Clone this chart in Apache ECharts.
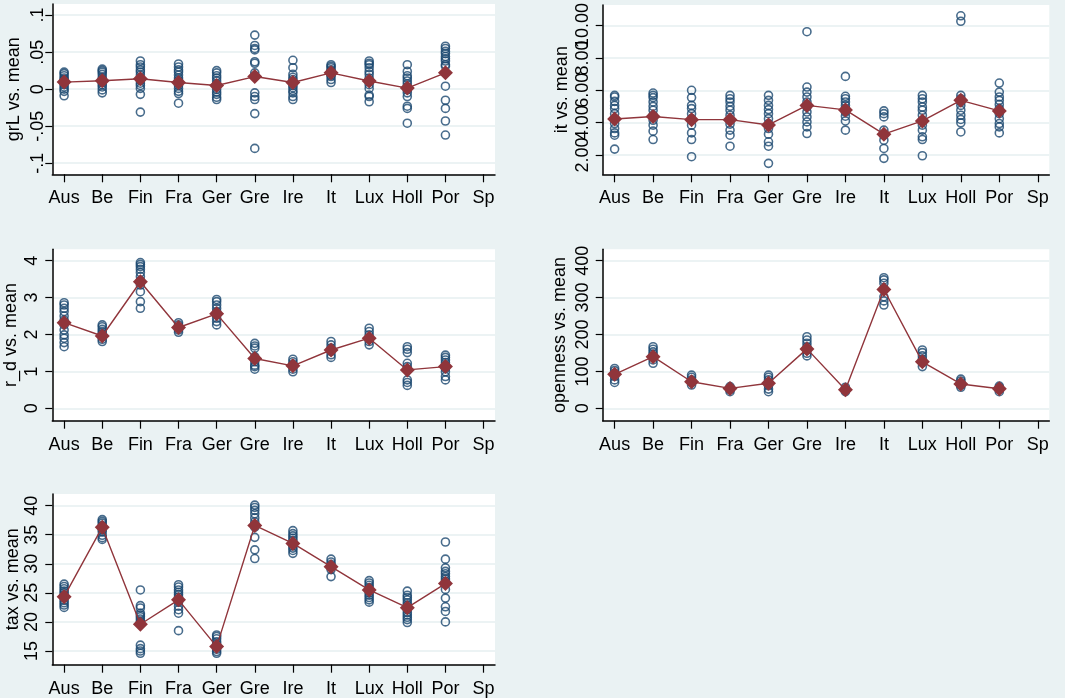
<!DOCTYPE html>
<html>
<head>
<meta charset="utf-8">
<script src="https://cdn.jsdelivr.net/npm/echarts@6/dist/echarts.min.js"></script>
<style>
html,body{margin:0;padding:0;background:#eaf2f3;}
#chart{width:1065px;height:698px;}
</style>
</head>
<body>
<div id="chart"></div>
<script>
// ---------- DATA ----------
const countries = ['Aus','Be','Fin','Fra','Ger','Gre','Ire','It','Lux','Holl','Por','Sp'];

const grL = [
  [0.023,0.021,0.018,0.015,0.013,0.011,0.009,0.006,0.003,0.0,-0.003,-0.009],
  [0.027,0.025,0.023,0.020,0.016,0.013,0.009,0.006,0.003,-0.001,-0.005],
  [0.038,0.033,0.030,0.026,0.023,0.019,0.015,0.012,0.008,0.005,0.001,-0.007,-0.031],
  [0.034,0.030,0.026,0.023,0.019,0.015,0.012,0.008,0.005,0.001,-0.003,-0.006,-0.019],
  [0.025,0.022,0.018,0.015,0.011,0.007,0.004,0.0,-0.004,-0.007,-0.011,-0.014],
  [0.073,0.059,0.055,0.053,0.037,0.035,0.022,0.018,-0.005,-0.010,-0.014,-0.033,-0.080],
  [0.039,0.029,0.020,0.016,0.013,0.009,0.005,0.002,-0.002,-0.005,-0.010,-0.014],
  [0.033,0.031,0.029,0.026,0.024,0.022,0.019,0.017,0.013,0.009],
  [0.038,0.035,0.033,0.029,0.024,0.020,0.015,0.010,0.006,0.001,-0.008,-0.010,-0.017],
  [0.033,0.024,0.018,0.015,0.011,0.007,0.003,-0.001,-0.005,-0.010,-0.023,-0.026,-0.046],
  [0.058,0.055,0.051,0.048,0.044,0.041,0.038,0.033,0.031,0.004,-0.015,-0.026,-0.043,-0.062]
];
const grLMean = [0.0095,0.0114,0.014,0.009,0.005,0.017,0.009,0.022,0.011,0.0014,0.022];

const itv = [
  [5.69,5.59,5.32,5.07,4.87,4.56,4.25,3.95,3.64,3.37,3.23,2.37],
  [5.83,5.69,5.55,5.28,5.01,4.77,4.46,4.15,3.85,3.48,2.96],
  [6.0,5.55,5.07,4.87,4.56,4.25,3.85,3.37,2.96,1.9],
  [5.69,5.48,5.28,5.01,4.77,4.46,4.15,3.91,3.54,3.23,2.55],
  [5.69,5.38,5.07,4.81,4.56,4.25,3.95,3.64,3.29,2.82,2.55,1.49],
  [9.62,6.2,5.89,5.59,5.28,4.97,4.66,4.36,4.05,3.74,3.33],
  [6.86,5.63,5.48,5.28,5.07,4.87,4.66,4.40,4.11,3.54],
  [4.73,4.56,4.36,3.54,3.23,2.92,2.41,1.8],
  [5.69,5.48,5.28,4.97,4.77,4.46,4.15,3.85,3.54,3.13,2.96,1.96],
  [10.6,10.26,5.69,5.48,5.28,5.07,4.77,4.46,4.20,3.99,3.43],
  [6.45,5.89,5.59,5.38,5.13,4.87,4.56,4.25,3.95,3.74,3.37]
];
const itMean = [4.23,4.38,4.19,4.19,3.86,5.07,4.79,3.29,4.11,5.38,4.73];

const rd = [
  [2.86,2.80,2.71,2.62,2.5,2.39,2.26,2.12,1.99,1.90,1.78,1.67],
  [2.26,2.21,2.14,2.08,2.02,1.95,1.87,1.81],
  [3.95,3.90,3.84,3.77,3.68,3.57,3.46,3.34,3.16,2.89,2.71],
  [2.32,2.26,2.19,2.12,2.06],
  [2.95,2.89,2.80,2.71,2.62,2.53,2.44,2.35,2.26],
  [1.76,1.69,1.63,1.40,1.26,1.17,1.13,1.06],
  [1.33,1.26,1.20,1.13,1.06,0.99],
  [1.81,1.72,1.63,1.54,1.45,1.38],
  [2.17,2.08,1.99,1.90,1.81,1.72],
  [1.67,1.60,1.51,1.22,1.13,1.06,0.77,0.70,0.62],
  [1.44,1.38,1.31,1.24,1.17,1.08,0.99,0.86,0.77]
];
const rdMean = [2.32,1.96,3.43,2.19,2.56,1.35,1.15,1.58,1.90,1.04,1.13];

const openness = [
  [108,102,95,86,77,70],
  [167,160,153,147,140,131,122],
  [90,84,77,70,63],
  [59,54,50,45],
  [90,84,77,70,61,52,45],
  [194,185,176,167,158,149,142],
  [57,51,45],
  [354,348,339,325,302,291,280],
  [158,151,142,133,124,113],
  [79,74,68,62,57],
  [60,56,51,45]
];
const opennessMean = [92,140,72,54,68,161,50,322,126,66,53];

const tax = [
  [26.5,26.1,25.7,25.3,25.0,24.6,24.2,23.7,23.3,22.9,22.5],
  [37.6,37.3,37.0,36.6,36.3,35.9,35.5,34.9,34.5,34.2],
  [25.5,22.8,22.4,21.5,21.2,20.9,20.5,20.1,19.7,16.0,15.4,15.0,14.6],
  [26.4,26.0,25.5,25.1,24.7,24.3,23.8,23.4,22.7,22.1,21.5,18.5],
  [17.75,17.5,17.1,16.6,16.2,15.7,15.3,14.9,14.6],
  [40.1,39.7,39.2,38.6,37.9,37.2,36.7,36.3,34.55,32.4,30.9],
  [35.7,35.2,34.8,34.4,34.0,33.5,33.1,32.7,32.3,31.8],
  [30.8,30.3,29.9,29.5,29.0,27.8],
  [27.1,26.7,26.3,25.9,25.5,25.0,24.6,24.2,23.8,23.4],
  [25.3,24.6,24.2,23.8,23.3,22.9,22.5,22.1,21.6,21.2,20.8,20.4,19.9],
  [33.75,30.8,29.3,28.7,28.3,27.8,27.4,27.0,26.6,25.6,24.1,22.6,21.8,20.0]
];
const taxMean = [24.35,36.3,19.6,23.8,15.75,36.6,33.5,29.5,25.5,22.45,26.6];

const yTitles = ['grL vs. mean','it vs. mean','r_d vs. mean','openness vs. mean','tax vs. mean'];
const yTicks = [
  [-0.1,-0.05,0,0.05,0.1],
  [2,4,6,8,10],
  [0,1,2,3,4],
  [0,100,200,300,400],
  [15,20,25,30,35,40]
];
// labels of the "it" panel overlap each other in the original; they are split
// over two coincident axes so that none is dropped
const itLabelsA = [2,6,10];
const itLabelsB = [4,8];
const xTicks = [0,1,2,3,4,5,6,7,8,9,10,11];

// ---------- LAYOUT ----------
const FONT = 'Liberation Sans, Arial, Helvetica, sans-serif';
const FS = 18;
const NAVY = '#1a476f';
const MAROON = '#90353b';
const GRIDC = '#e6eff1';

const panels = [
  {vals: grL, mean: grLMean, grid:{left:52.3, top:4, width:442.7, height:170.3}, ymin:-0.115, ymax:0.115,
   fmt: v => { if (v===0) return '0'; let s = String(+v.toFixed(2)); return s.replace(/^(-?)0\./,'$1.'); }, lm:5, ng:29},
  {vals: itv, mean: itMean, grid:{left:602.7, top:4, width:446.6, height:170.3}, ymin:0.815, ymax:11.27,
   fmt: v => v.toFixed(2), lm:11, ng:32, labels: itLabelsA, labels2: itLabelsB},
  {vals: rd, mean: rdMean, grid:{left:52.3, top:249.3, width:442.7, height:171.4}, ymin:-0.336, ymax:4.309,
   fmt: v => String(v), lm:11, ng:32},
  {vals: openness, mean: opennessMean, grid:{left:602.7, top:249.3, width:446.6, height:171.4}, ymin:-33.6, ymax:430.9,
   fmt: v => String(v), lm:11, ng:34},
  {vals: tax, mean: taxMean, grid:{left:52.3, top:494, width:442.7, height:170.7}, ymin:12.64, ymax:42.01,
   fmt: v => String(v), lm:11, ng:30}
];

const grids = [], xAxes = [], yAxes = [], series = [];
panels.forEach((p, i) => {
  grids.push(Object.assign({show:true, backgroundColor:'#ffffff', borderWidth:0, containLabel:false}, p.grid));
  xAxes.push({
    type:'value', gridIndex:i, min:-0.31, max:11.3,
    axisLine:{show:true, onZero:false, lineStyle:{color:'#000', width:1.5}},
    axisTick:{show:true, length:8, lineStyle:{color:'#000', width:1.2}, customValues: xTicks},
    axisLabel:{show:true, customValues: xTicks, margin:15, fontSize:FS, fontFamily:FONT, color:'#000',
      hideOverlap:false, showMinLabel:true, showMaxLabel:true,
      formatter: v => countries[Math.round(v)] || ''},
    splitLine:{show:false}
  });
  yAxes.push({
    type:'value', gridIndex:i, min:p.ymin, max:p.ymax, position:'left',
    name: yTitles[i], nameLocation:'middle', nameGap:p.ng,
    nameTextStyle:{fontSize:FS, fontFamily:FONT, color:'#000'},
    axisLine:{show:true, onZero:false, lineStyle:{color:'#000', width:1.5}},
    axisTick:{show:true, length:7, lineStyle:{color:'#000', width:1.2}, customValues: yTicks[i]},
    axisLabel:{show:true, customValues: p.labels || yTicks[i], rotate:90, margin:p.lm, fontSize:FS, fontFamily:FONT, color:'#000',
      hideOverlap:false, showMinLabel:true, showMaxLabel:true,
      formatter: p.fmt},
    splitLine:{show:true, lineStyle:{color:GRIDC, width:1.5}}
  });
  const pts = [];
  p.vals.forEach((arr, ci) => arr.forEach(v => pts.push([ci, v])));
  series.push({
    type:'scatter', xAxisIndex:i, yAxisIndex:i, data:pts, symbol:'circle', symbolSize:8,
    itemStyle:{color:'rgba(0,0,0,0)', borderColor:NAVY, borderWidth:1.6},
    silent:true, animation:false, z:2
  });
  series.push({
    type:'line', xAxisIndex:i, yAxisIndex:i, data:p.mean.map((m, ci) => [ci, m]),
    symbol:'diamond', symbolSize:15, showSymbol:true,
    lineStyle:{color:MAROON, width:1.4}, itemStyle:{color:MAROON, borderWidth:0},
    silent:true, animation:false, z:3
  });
});

// second, label-only axis for the "it" panel
panels.forEach((p, i) => {
  if (!p.labels2) return;
  yAxes.push({
    type:'value', gridIndex:i, min:p.ymin, max:p.ymax, position:'left', offset:0,
    axisLine:{show:false}, axisTick:{show:false, customValues: p.labels2}, splitLine:{show:false},
    axisLabel:{show:true, customValues: p.labels2, rotate:90, margin:p.lm, fontSize:FS, fontFamily:FONT, color:'#000',
      hideOverlap:false, showMinLabel:true, showMaxLabel:true, formatter: p.fmt}
  });
});

const chart = echarts.init(document.getElementById('chart'), null, {renderer:'canvas'});
chart.setOption({
  backgroundColor:'#eaf2f3',
  animation:false,
  textStyle:{fontFamily:FONT},
  grid: grids, xAxis: xAxes, yAxis: yAxes, series: series
});
</script>
</body>
</html>
